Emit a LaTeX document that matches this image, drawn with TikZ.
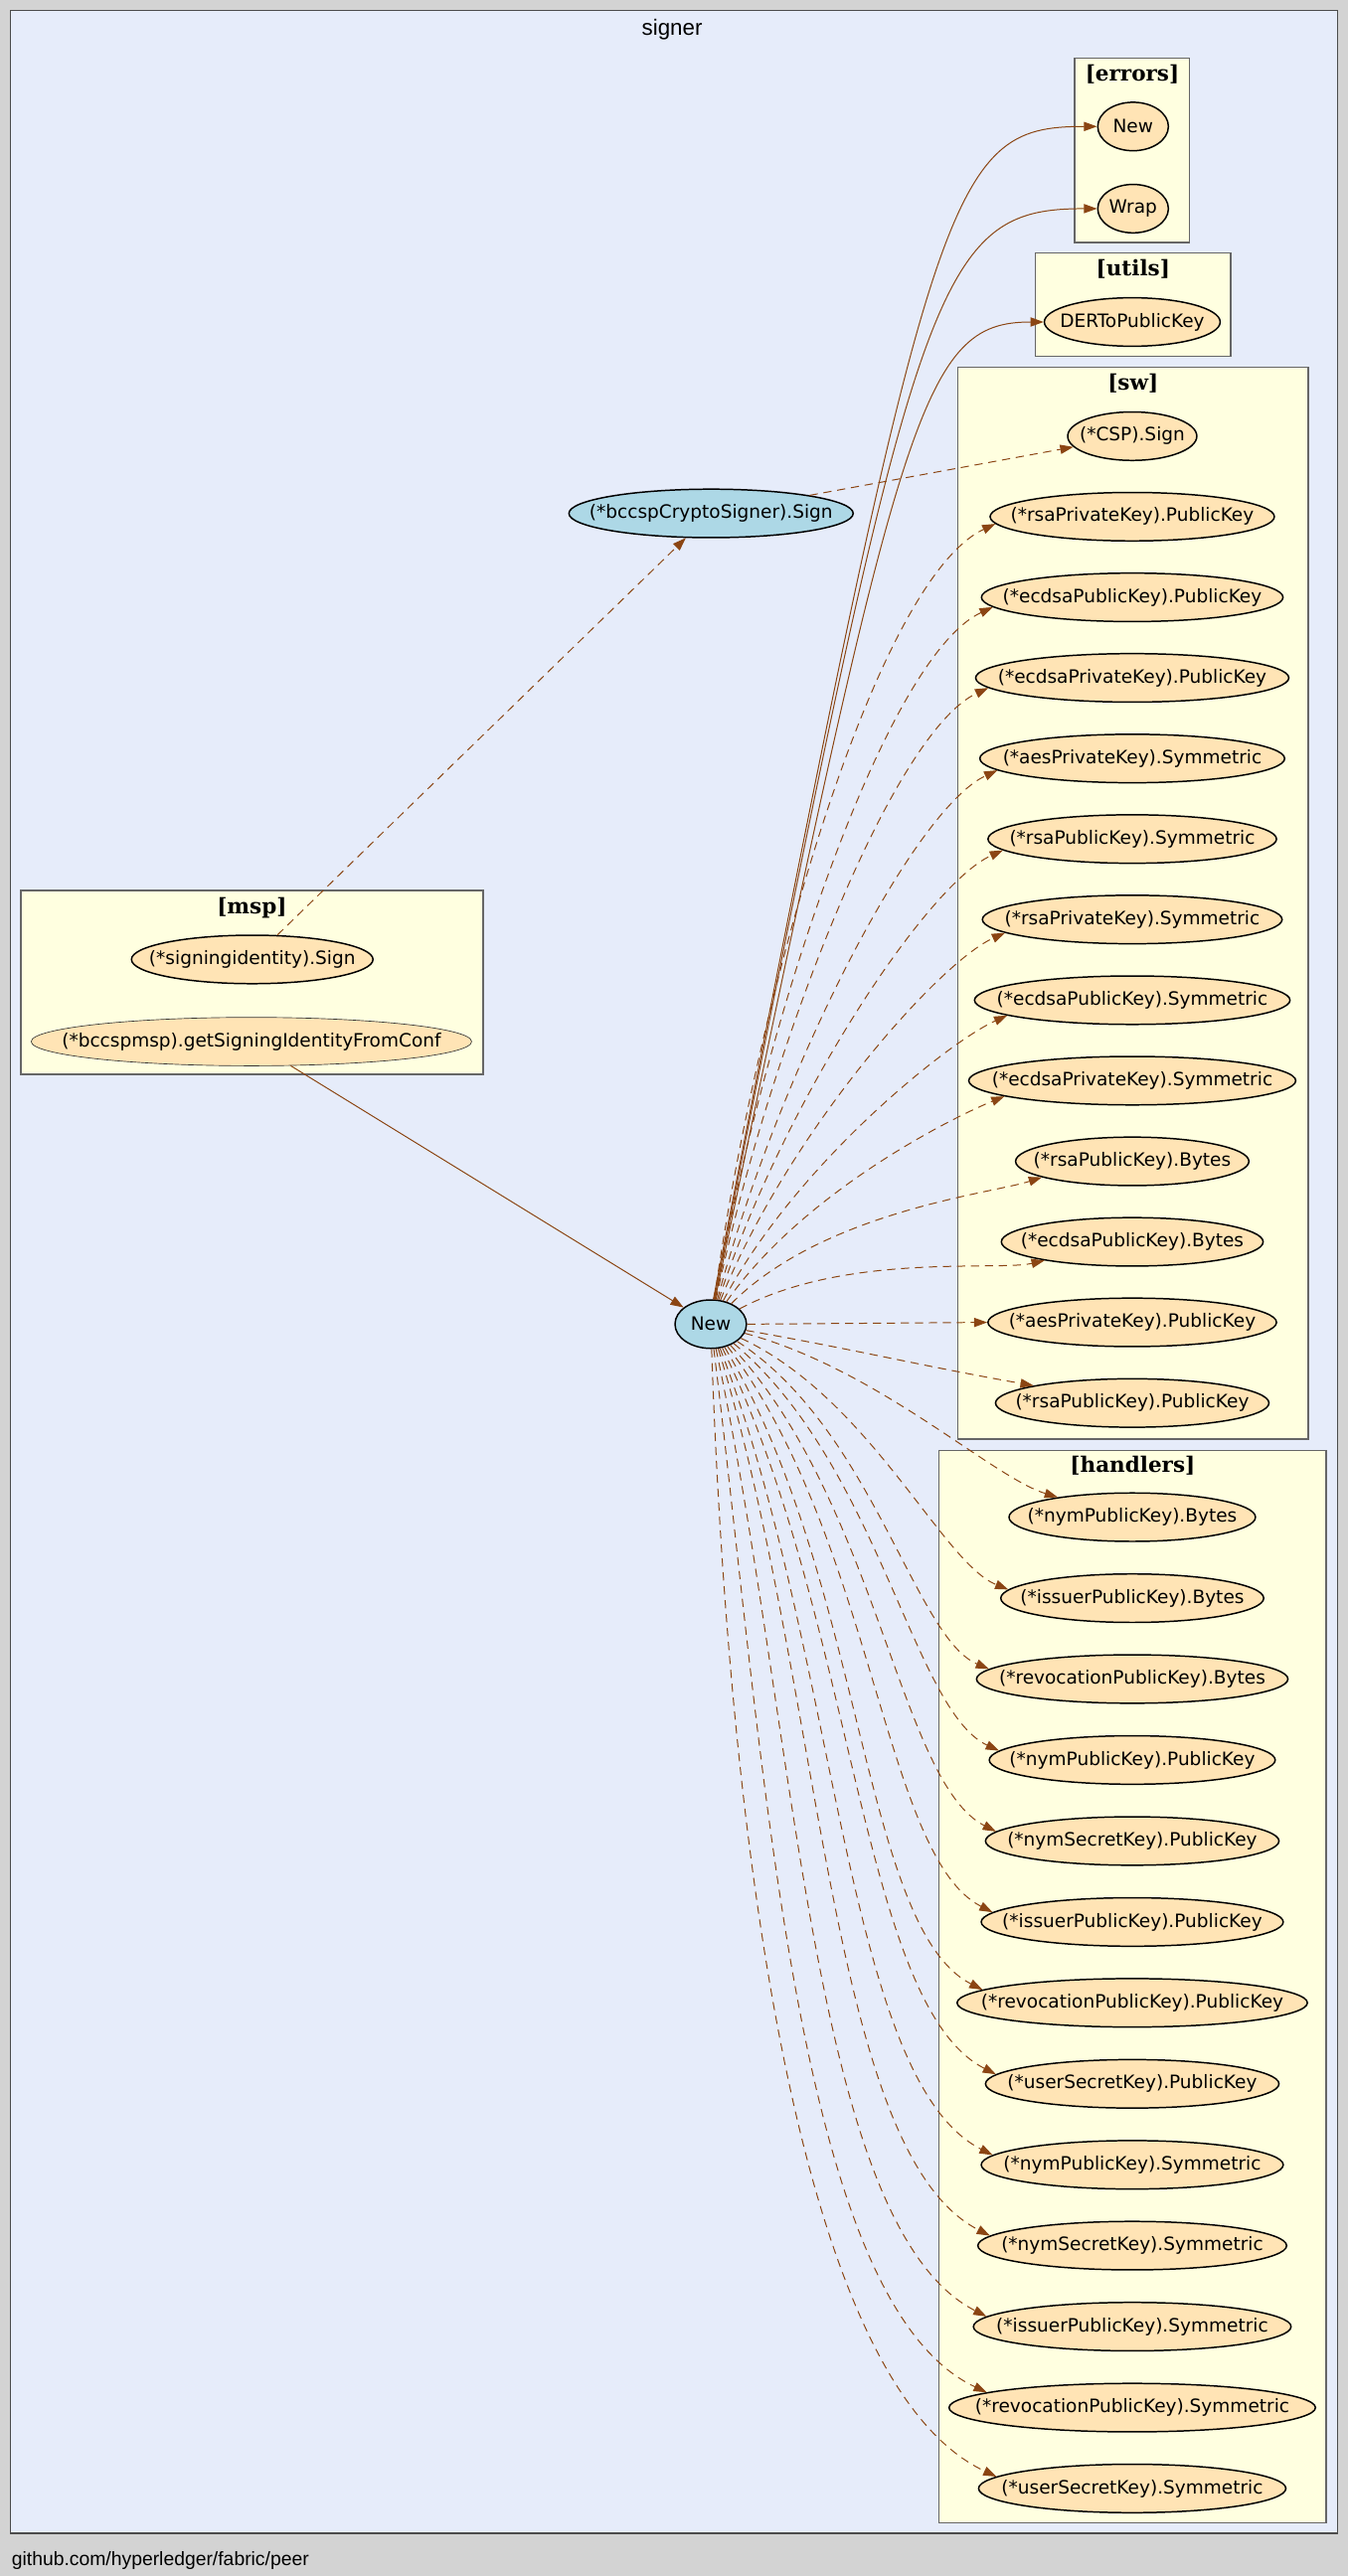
\documentclass[tikz,border=0pt]{standalone}
\usepackage{fontspec}
\setmainfont{DejaVu Sans}
\newfontfamily\pkgfont{DejaVu Serif}
\newfontfamily\gvfont{Liberation Sans}
\usepackage{xcolor}
\usepackage{tikz}
\usetikzlibrary{arrows.meta,shapes.geometric}

\definecolor{edgebrown}{HTML}{8B4513}
\definecolor{fnext}{HTML}{FFE4B5}
\definecolor{fnlocal}{HTML}{ADD8E6}
\definecolor{pkgfill}{HTML}{FFFFE0}
\definecolor{signerfill}{HTML}{E6ECFA}
\definecolor{pagegray}{HTML}{D3D3D3}

\tikzset{
  fn/.style={ellipse,draw,line width=0.9pt,fill=fnext,inner xsep=-24pt,inner ysep=0pt,minimum height=29.5pt,font=\fontsize{11.2}{13}\selectfont},
  fnloc/.style={fn,fill=fnlocal},
  fnthin/.style={fn,line width=0.4pt,draw=black!80},
  pkgbox/.style={draw=black!60,line width=0.8pt,fill=pkgfill},
  pkgtitle/.style={font=\pkgfont\bfseries\fontsize{13}{15}\selectfont},
  call/.style={->,edgebrown,line width=0.6pt},
  dyncall/.style={call,dash pattern=on 5pt off 3.5pt},
}

\begin{document}
\begin{tikzpicture}[x=1pt,y=1pt,>={Triangle[length=8pt,width=5.6pt]}]
  \fill[pagegray] (0,0) rectangle (820,-1568);
  \useasboundingbox (0,0) rectangle (820,-1568);
  \draw[fill=signerfill,draw=black!70,line width=0.8pt] (6.3,-6.3) rectangle (814,-1542);
  \node[font=\gvfont\fontsize{13.5}{16}\selectfont,anchor=base] (tsigner) at (409,-21.2) {signer};
  \node[font=\gvfont\fontsize{11.7}{14}\selectfont,anchor=base west,inner sep=0pt] (tfoot) at (7,-1561.7) {github.com/hyperledger/fabric/peer};

  \draw[pkgbox] (654,-35.4) rectangle (724,-147.6);
  \draw[pkgbox] (630,-154) rectangle (749,-217);
  \draw[pkgbox] (583,-223.6) rectangle (796,-876);
  \draw[pkgbox] (571.5,-883) rectangle (807,-1535.5);
  \draw[pkgbox] (12.7,-542) rectangle (294,-654);
  \node[pkgtitle] (terr) at (689,-45) {[errors]};
  \node[pkgtitle] (tutl) at (689.5,-163.7) {[utils]};
  \node[pkgtitle] (tsw) at (689.5,-233.5) {[sw]};
  \node[pkgtitle] (thd) at (689.25,-892) {[handlers]};
  \node[pkgtitle] (tmsp) at (153.3,-552.6) {[msp]};

  \node[fnloc,minimum width=43.5pt] (new) at (432.5,-806) {New};
  \node[fnloc,minimum width=173pt] (csign) at (432.7,-312.5) {(*bccspCryptoSigner).Sign};
  \node[fn,minimum width=147pt] (msp0) at (153.5,-584) {(*signingidentity).Sign};
  \node[fnthin,minimum width=268pt] (msp1) at (153,-634) {(*bccspmsp).getSigningIdentityFromConf};
  \node[fn,minimum width=43pt] (er0) at (689.5,-77) {New};
  \node[fn,minimum width=43pt] (er1) at (689.5,-127) {Wrap};
  \node[fn,minimum width=107pt] (ut0) at (689,-196) {DERToPublicKey};

  \node[fn,minimum width=78.6pt] (sw0) at (689,-265.5) {(*CSP).Sign};
  \node[fn,minimum width=173pt] (sw1) at (689,-314.5) {(*rsaPrivateKey).PublicKey};
  \node[fn,minimum width=183.5pt] (sw2) at (689,-363.6) {(*ecdsaPublicKey).PublicKey};
  \node[fn,minimum width=190.6pt] (sw3) at (689,-412.6) {(*ecdsaPrivateKey).PublicKey};
  \node[fn,minimum width=185.5pt] (sw4) at (689,-461.7) {(*aesPrivateKey).Symmetric};
  \node[fn,minimum width=175.6pt] (sw5) at (689,-510.7) {(*rsaPublicKey).Symmetric};
  \node[fn,minimum width=182.4pt] (sw6) at (689,-559.7) {(*rsaPrivateKey).Symmetric};
  \node[fn,minimum width=192pt] (sw7) at (689,-608.8) {(*ecdsaPublicKey).Symmetric};
  \node[fn,minimum width=199pt] (sw8) at (689,-657.8) {(*ecdsaPrivateKey).Symmetric};
  \node[fn,minimum width=142pt] (sw9) at (689,-706.9) {(*rsaPublicKey).Bytes};
  \node[fn,minimum width=159.3pt] (sw10) at (689,-755.9) {(*ecdsaPublicKey).Bytes};
  \node[fn,minimum width=175.6pt] (sw11) at (689,-804.9) {(*aesPrivateKey).PublicKey};
  \node[fn,minimum width=166.4pt] (sw12) at (689,-854) {(*rsaPublicKey).PublicKey};

  \node[fn,minimum width=150pt] (hd0) at (689,-923.5) {(*nymPublicKey).Bytes};
  \node[fn,minimum width=160pt] (hd1) at (689,-972.8) {(*issuerPublicKey).Bytes};
  \node[fn,minimum width=189.5pt] (hd2) at (689,-1022) {(*revocationPublicKey).Bytes};
  \node[fn,minimum width=174pt] (hd3) at (689,-1071.3) {(*nymPublicKey).PublicKey};
  \node[fn,minimum width=178.6pt] (hd4) at (689,-1120.6) {(*nymSecretKey).PublicKey};
  \node[fn,minimum width=183.8pt] (hd5) at (689,-1169.9) {(*issuerPublicKey).PublicKey};
  \node[fn,minimum width=213.2pt] (hd6) at (689,-1219.1) {(*revocationPublicKey).PublicKey};
  \node[fn,minimum width=178.6pt] (hd7) at (689,-1268.4) {(*userSecretKey).PublicKey};
  \node[fn,minimum width=183.8pt] (hd8) at (689,-1317.7) {(*nymPublicKey).Symmetric};
  \node[fn,minimum width=187.9pt] (hd9) at (689,-1366.9) {(*nymSecretKey).Symmetric};
  \node[fn,minimum width=193.3pt] (hd10) at (689,-1416.2) {(*issuerPublicKey).Symmetric};
  \node[fn,minimum width=223pt] (hd11) at (689,-1465.5) {(*revocationPublicKey).Symmetric};
  \node[fn,minimum width=187pt] (hd12) at (689,-1514.7) {(*userSecretKey).Symmetric};

  \draw[call] (msp1) -- (new);
  \draw[dyncall] (msp0) -- (csign);
  \draw[dyncall] (csign) -- (sw0);
  \draw[call] (new.84) .. controls (567,-110) and (575,-77) .. (er0.west);
  \draw[call] (new.82) .. controls (557,-170) and (567,-127) .. (er1.west);
  \draw[call] (new.80) .. controls (548,-250) and (560,-196) .. (ut0.west);

  \draw[dyncall] (new.82) to[out=82,in=205,in looseness=0.4] (sw1.183);
  \draw[dyncall] (new.80) to[out=80,in=205,in looseness=0.4] (sw2.184);
  \draw[dyncall] (new.78) to[out=78,in=205,in looseness=0.4] (sw3.184);
  \draw[dyncall] (new.75) to[out=75,in=205,in looseness=0.4] (sw4.185);
  \draw[dyncall] (new.72) to[out=72,in=204,in looseness=0.4] (sw5.185);
  \draw[dyncall] (new.68) to[out=68,in=204,in looseness=0.4] (sw6.186);
  \draw[dyncall] (new.62) to[out=62,in=204,in looseness=0.4] (sw7.187);
  \draw[dyncall] (new.55) to[out=55,in=202,in looseness=0.4] (sw8.187);
  \draw[dyncall] (new.45) to[out=45,in=198,in looseness=0.4] (sw9.190);
  \draw[dyncall] (new.28) to[out=28,in=193,in looseness=0.4] (sw10.192);
  \draw[dyncall] (new.east) -- (sw11.west);
  \draw[dyncall] (new.-10) to[out=-10,in=170] (sw12.170);

  \draw[dyncall] (new.-15) to[out=-15,in=163,in looseness=0.5] (hd0.165);
  \draw[dyncall] (new.-25) to[out=-25,in=158,in looseness=0.5] (hd1.176);
  \draw[dyncall] (new.-33) to[out=-33,in=157,in looseness=0.5] (hd2.176);
  \draw[dyncall] (new.-40) to[out=-40,in=155,in looseness=0.5] (hd3.176);
  \draw[dyncall] (new.-47) to[out=-47,in=153,in looseness=0.5] (hd4.176);
  \draw[dyncall] (new.-53) to[out=-53,in=153,in looseness=0.5] (hd5.176);
  \draw[dyncall] (new.-59) to[out=-59,in=153,in looseness=0.5] (hd6.175);
  \draw[dyncall] (new.-64) to[out=-64,in=153,in looseness=0.5] (hd7.176);
  \draw[dyncall] (new.-69) to[out=-69,in=153,in looseness=0.5] (hd8.176);
  \draw[dyncall] (new.-73) to[out=-73,in=153,in looseness=0.5] (hd9.176);
  \draw[dyncall] (new.-78) to[out=-78,in=153,in looseness=0.5] (hd10.176);
  \draw[dyncall] (new.-83) to[out=-83,in=155,in looseness=0.5] (hd11.174);
  \draw[dyncall] (new.-88) to[out=-88,in=155,in looseness=0.5] (hd12.175);
\end{tikzpicture}
\end{document}
